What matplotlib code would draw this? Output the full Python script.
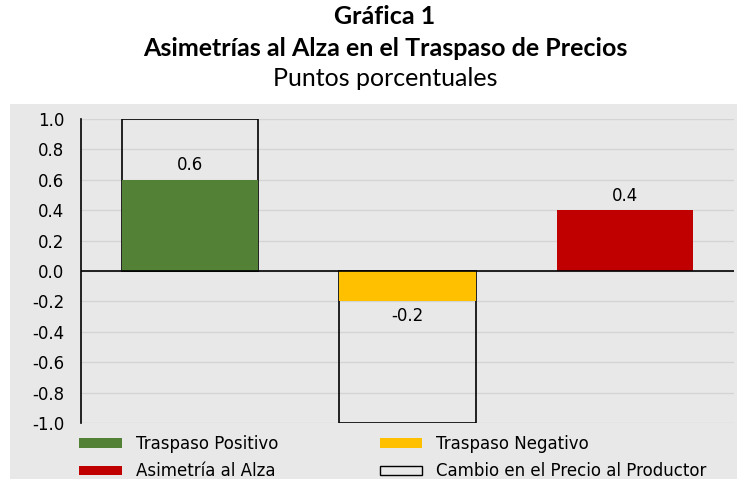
import numpy as np
import matplotlib.pyplot as plt
from matplotlib.patches import Rectangle, Patch

categorias = ['Traspaso Positivo', 'Traspaso Negativo', 'Asimetría al Alza']
traspaso = [0.6, -0.2, 0.4]
cambio_precio = [1.0, -1.0]
colores = ['#538135', '#FFC000', '#C00000']
yticks = [-1.0, -0.8, -0.6, -0.4, -0.2, 0.0, 0.2, 0.4, 0.6, 0.8, 1.0]

fondo = '#E8E8E8'
fig = plt.figure(figsize=(7.44, 4.79), dpi=100)
fig.patches.append(Rectangle((10/744, 0), 727/744, 1 - 104/479,
                             transform=fig.transFigure, facecolor=fondo,
                             edgecolor='none', zorder=-10))

ax = fig.add_axes([81/744, 1 - 423/479, 653/744, 304/479])
ax.set_facecolor(fondo)

x = np.arange(len(categorias))
w = 0.625
ax.bar(x[:len(cambio_precio)], cambio_precio, w, facecolor='none',
       edgecolor='black', linewidth=1.2, zorder=2)
bars = ax.bar(x, traspaso, w, color=colores, zorder=3)
ax.bar_label(bars, labels=['%.1f' % v for v in traspaso], padding=4,
             fontsize=12, family='DejaVu Sans')
ax.axhline(0, color='black', linewidth=1.2, zorder=4)

ax.set_xlim(-0.5, 2.5)
ax.set_ylim(-1.0, 1.0)
ax.set_yticks(yticks)
ax.set_yticklabels(['%.1f' % v for v in yticks], family='DejaVu Sans', fontsize=12)
ax.set_xticks([])
ax.tick_params(axis='y', length=0, pad=12)
ax.grid(axis='y', color='#D4D4D4', linewidth=1)
ax.set_axisbelow(True)
for s in ['top', 'right', 'bottom']:
    ax.spines[s].set_visible(False)
ax.spines['left'].set_linewidth(1.2)

cx = 385/744
fig.text(cx, 1 - 17/479, 'Gráfica 1', ha='center', va='center',
         fontsize=18, fontweight='bold', family='Lato')
fig.text(cx, 1 - 48/479, 'Asimetrías al Alza en el Traspaso de Precios',
         ha='center', va='center', fontsize=18, fontweight='bold', family='Lato')
fig.text(cx, 1 - 79/479, 'Puntos porcentuales', ha='center', va='center',
         fontsize=18, family='Lato')

handles = [Patch(facecolor=colores[0], label='Traspaso Positivo'),
           Patch(facecolor=colores[2], label='Asimetría al Alza'),
           Patch(facecolor=colores[1], label='Traspaso Negativo'),
           Patch(facecolor='none', edgecolor='black', label='Cambio en el Precio al Productor')]
fig.legend(handles=handles, ncol=2, loc='upper left',
           bbox_to_anchor=(79/744, 1 - 435/479), frameon=False,
           borderpad=0, borderaxespad=0,
           prop={'family': 'DejaVu Sans', 'size': 12},
           handlelength=2.55, handleheight=0.48, handletextpad=0.85,
           columnspacing=6.1, labelspacing=0.55)

fig.savefig('out.png', dpi=100)
